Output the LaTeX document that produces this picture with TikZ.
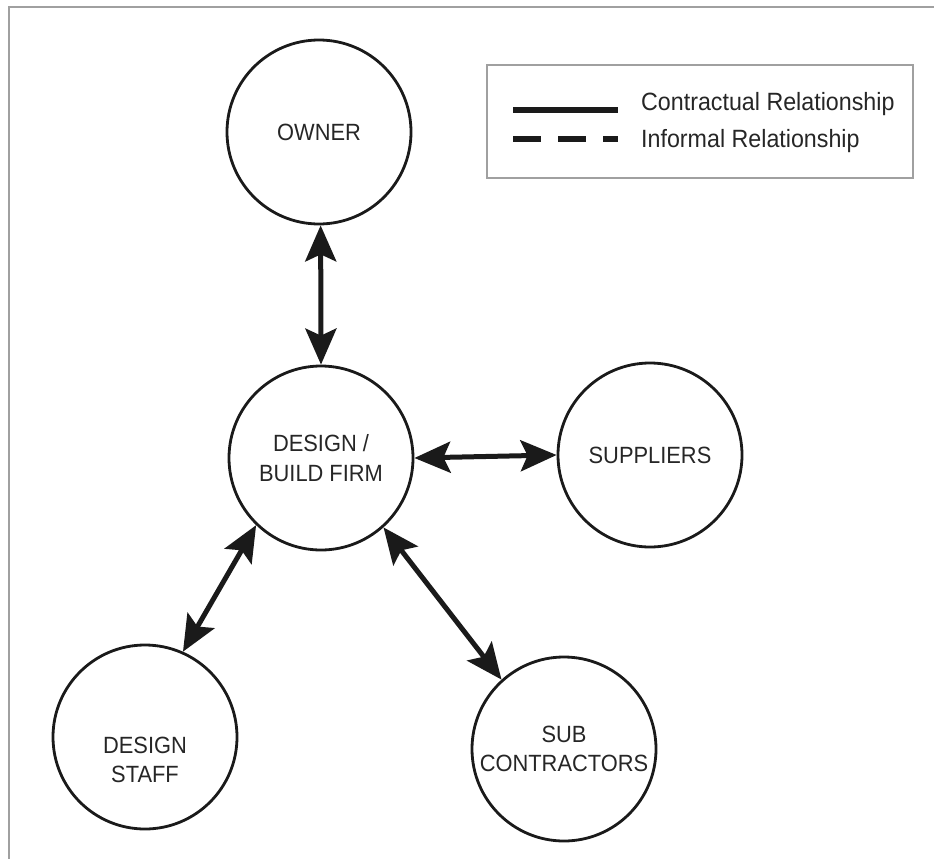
\documentclass[tikz,border=0pt]{standalone}
\usepackage{fontspec}
\setmainfont[FakeStretch=0.93]{Liberation Sans}
\usetikzlibrary{arrows.meta}
\definecolor{ink}{HTML}{1A1A1A}
\definecolor{txt}{HTML}{262626}
\definecolor{frame}{HTML}{A0A0A0}
\begin{document}
\begin{tikzpicture}[x=1pt,y=-1pt,
  ent/.style={circle,draw=ink,line width=2.8pt,minimum size=184pt,inner sep=0pt,align=center,
    font=\fontsize{23.5}{29.5}\selectfont,text=txt},
  enttext/.style={align=center,inner sep=0pt,font=\fontsize{23.5}{29.5}\selectfont,text=txt},
  tip/.tip={Stealth[length=36pt,width=31pt,inset=7pt]},
  rel/.style={draw=ink,line width=5pt,tip-tip},
  legtext/.style={anchor=base west,inner sep=0pt,font=\fontsize{25}{30}\selectfont,text=txt}]
\useasboundingbox (0,0) rectangle (934,859);
% page frame (top and left edges only)
\draw[frame,line width=1.3pt] (9,859) -- (9,7) -- (934,7);
% legend
\draw[frame,line width=1.3pt] (487,65) rectangle (913,178);
\coordinate (s1) at (513,110);
\coordinate (s2) at (618,110);
\coordinate (d1) at (513,139);
\coordinate (d2) at (618,139);
\draw[ink,line width=5.5pt] (s1) -- (s2);
\draw[ink,line width=5.5pt,dash pattern=on 28pt off 17pt] (d1) -- (d2);
\node[legtext] (lc) at (641,110) {Contractual Relationship};
\node[legtext] (li) at (641,147) {Informal Relationship};
% entities
\node[ent] (owner) at (319,132) {OWNER};
\node[ent] (db) at (321,458) {DESIGN /\\BUILD FIRM};
\node[ent] (sup) at (650,455) {SUPPLIERS};
\node[ent] (ds) at (145,737) {};
\node[enttext] (dst) at (145,760) {DESIGN\\STAFF};
\node[ent] (sc) at (564,749) {SUB\\CONTRACTORS};
% relationships
\draw[rel] (owner.271) -- (db.90);
\draw[rel] (db.0) -- (sup.180);
\draw[rel] (db.226) -- (ds.66);
\draw[rel] (db.312) -- (sc.132);
\end{tikzpicture}
\end{document}
